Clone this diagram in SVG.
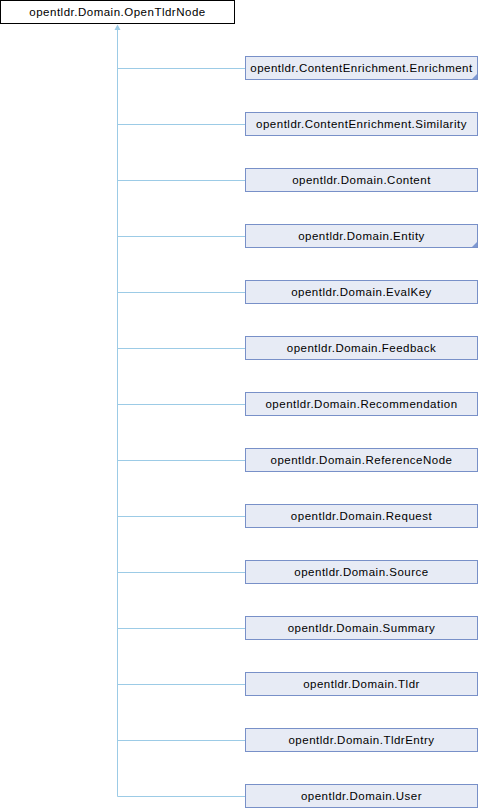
<svg xmlns="http://www.w3.org/2000/svg" width="480" height="808" viewBox="0 0 480 808">
<style>
.bg{fill:#ffffff}
.root{fill:#ffffff;stroke:#000000;stroke-width:1}
.box{fill:#e7ebf5;stroke:#7890c8;stroke-width:1}
.t{font-family:"Liberation Sans",Arial,sans-serif;font-size:11.5px;letter-spacing:0.5px;fill:#000000;text-anchor:middle}
.edge{stroke:#9ccbe6;stroke-width:1;fill:none}
.head{fill:#9ccbe6;stroke:none}
.more{fill:#7d98d2;stroke:none}
</style>
<rect class="bg" x="0" y="0" width="480" height="808"/>
<g id="connectors">
<line class="edge" x1="117.5" y1="29" x2="117.5" y2="796.5"/>
<polygon class="head" points="117.5,24.5 114.5,30 120.5,30"/>
<line class="edge" x1="117.5" y1="68.5" x2="245" y2="68.5"/>
<line class="edge" x1="117.5" y1="124.5" x2="245" y2="124.5"/>
<line class="edge" x1="117.5" y1="180.5" x2="245" y2="180.5"/>
<line class="edge" x1="117.5" y1="236.5" x2="245" y2="236.5"/>
<line class="edge" x1="117.5" y1="292.5" x2="245" y2="292.5"/>
<line class="edge" x1="117.5" y1="348.5" x2="245" y2="348.5"/>
<line class="edge" x1="117.5" y1="404.5" x2="245" y2="404.5"/>
<line class="edge" x1="117.5" y1="460.5" x2="245" y2="460.5"/>
<line class="edge" x1="117.5" y1="516.5" x2="245" y2="516.5"/>
<line class="edge" x1="117.5" y1="572.5" x2="245" y2="572.5"/>
<line class="edge" x1="117.5" y1="628.5" x2="245" y2="628.5"/>
<line class="edge" x1="117.5" y1="684.5" x2="245" y2="684.5"/>
<line class="edge" x1="117.5" y1="740.5" x2="245" y2="740.5"/>
<line class="edge" x1="117.5" y1="796.5" x2="245" y2="796.5"/>
</g>
<g id="node-OpenTldrNode">
<rect class="root" x="0.5" y="0.5" width="234" height="23"/>
<text class="t" x="117.5" y="16">opentldr.Domain.OpenTldrNode</text>
</g>
<g id="node-Enrichment">
<rect class="box" x="245.5" y="56.5" width="232" height="23"/>
<polygon class="more" points="472,79 477,74 477,79"/>
<text class="t" x="361.5" y="72">opentldr.ContentEnrichment.Enrichment</text>
</g>
<g id="node-Similarity">
<rect class="box" x="245.5" y="112.5" width="232" height="23"/>
<text class="t" x="361.5" y="128">opentldr.ContentEnrichment.Similarity</text>
</g>
<g id="node-Content">
<rect class="box" x="245.5" y="168.5" width="232" height="23"/>
<text class="t" x="361.5" y="184">opentldr.Domain.Content</text>
</g>
<g id="node-Entity">
<rect class="box" x="245.5" y="224.5" width="232" height="23"/>
<polygon class="more" points="472,247 477,242 477,247"/>
<text class="t" x="361.5" y="240">opentldr.Domain.Entity</text>
</g>
<g id="node-EvalKey">
<rect class="box" x="245.5" y="280.5" width="232" height="23"/>
<text class="t" x="361.5" y="296">opentldr.Domain.EvalKey</text>
</g>
<g id="node-Feedback">
<rect class="box" x="245.5" y="336.5" width="232" height="23"/>
<text class="t" x="361.5" y="352">opentldr.Domain.Feedback</text>
</g>
<g id="node-Recommendation">
<rect class="box" x="245.5" y="392.5" width="232" height="23"/>
<text class="t" x="361.5" y="408">opentldr.Domain.Recommendation</text>
</g>
<g id="node-ReferenceNode">
<rect class="box" x="245.5" y="448.5" width="232" height="23"/>
<text class="t" x="361.5" y="464">opentldr.Domain.ReferenceNode</text>
</g>
<g id="node-Request">
<rect class="box" x="245.5" y="504.5" width="232" height="23"/>
<text class="t" x="361.5" y="520">opentldr.Domain.Request</text>
</g>
<g id="node-Source">
<rect class="box" x="245.5" y="560.5" width="232" height="23"/>
<text class="t" x="361.5" y="576">opentldr.Domain.Source</text>
</g>
<g id="node-Summary">
<rect class="box" x="245.5" y="616.5" width="232" height="23"/>
<text class="t" x="361.5" y="632">opentldr.Domain.Summary</text>
</g>
<g id="node-Tldr">
<rect class="box" x="245.5" y="672.5" width="232" height="23"/>
<text class="t" x="361.5" y="688">opentldr.Domain.Tldr</text>
</g>
<g id="node-TldrEntry">
<rect class="box" x="245.5" y="728.5" width="232" height="23"/>
<text class="t" x="361.5" y="744">opentldr.Domain.TldrEntry</text>
</g>
<g id="node-User">
<rect class="box" x="245.5" y="784.5" width="232" height="23"/>
<text class="t" x="361.5" y="800">opentldr.Domain.User</text>
</g>
</svg>
